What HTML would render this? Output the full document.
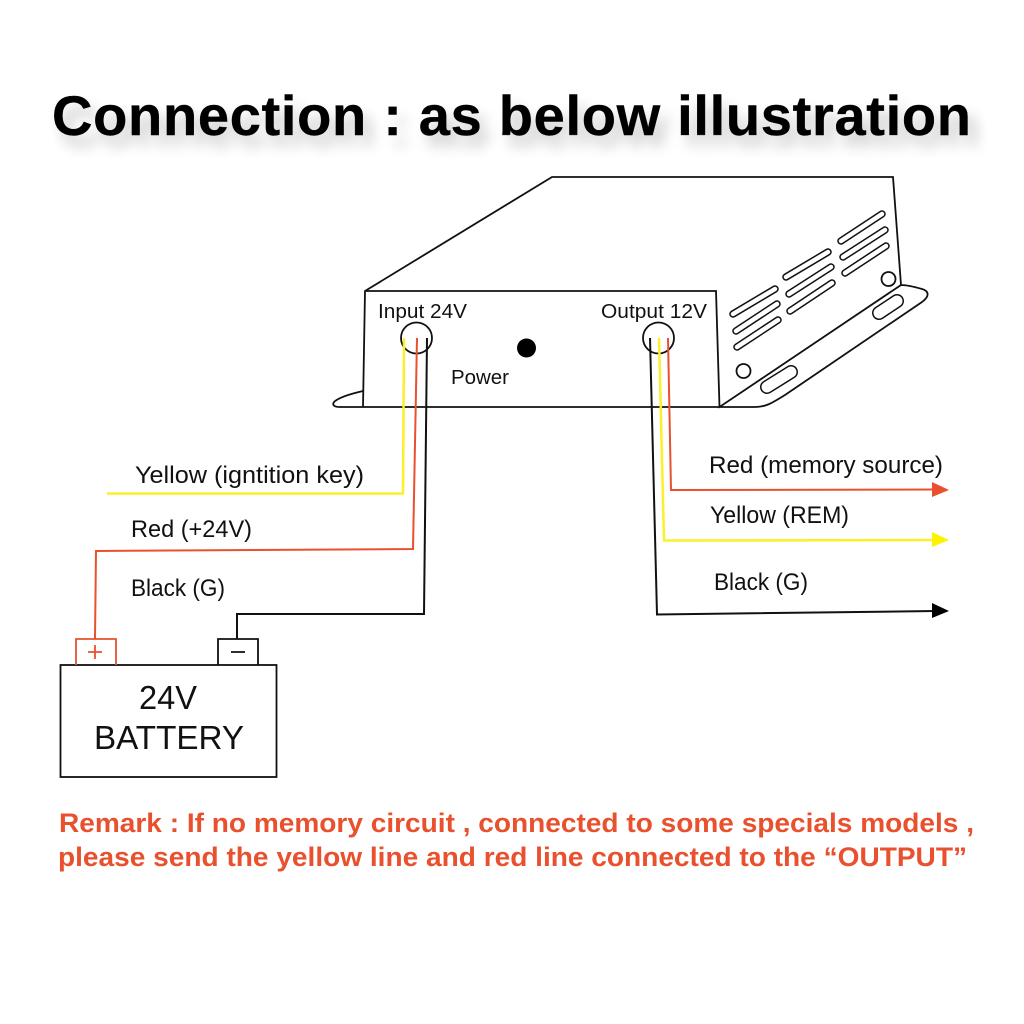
<!DOCTYPE html>
<html><head><meta charset="utf-8"><style>
html,body{margin:0;padding:0;background:#fff;width:1024px;height:1024px;overflow:hidden}
svg{display:block}
text{font-family:"Liberation Sans",sans-serif;fill:#111}
.l{font-size:24px}
.t{font-size:56px;font-weight:bold;fill:#000}
.r{font-size:27px;font-weight:bold;fill:#E9502E}
.s{fill:none;stroke:#111;stroke-width:1.8;stroke-linejoin:miter}
</style></head><body>
<svg width="1024" height="1024" viewBox="0 0 1024 1024" xmlns="http://www.w3.org/2000/svg">
<defs><filter id="b" x="-5%" y="-80%" width="110%" height="280%"><feGaussianBlur stdDeviation="7"/></filter></defs>
<text x="60" y="146" class="t" textLength="919" lengthAdjust="spacing" style="fill:#000;opacity:.22" filter="url(#b)">Connection : as below illustration</text>
<text x="52" y="135" class="t" textLength="919" lengthAdjust="spacing" style="stroke:#000;stroke-width:.4">Connection : as below illustration</text>

<path class="s" d="M363 407L365 291L552 177H893L901 285L719.5 407L716 291H365M363 407H755C766 407 772 403 785 395L922 302C930 296 929 291 922 289C915 287 908 285 901 285M363 391C350 394 338 398 334 402C332 405 334 407 340 407H363"/>
<g stroke-linecap="round" fill="none">
<g stroke="#111" stroke-width="7.500">
<path d="M733 314L775 289M736 331L777 304M737 347L778 320M786 277L828 252M789 294L831 267M790 311L832 283M841 241L882 214M843 257L885 230M845 273L886 246"/>
</g>
<g stroke="#fff" stroke-width="4.500">
<path d="M733 314L775 289M736 331L777 304M737 347L778 320M786 277L828 252M789 294L831 267M790 311L832 283M841 241L882 214M843 257L885 230M845 273L886 246"/>
</g>
<path stroke="#111" stroke-width="14" d="M767 387L791 372M879 313L897 301"/>
<path stroke="#fff" stroke-width="11" d="M767 387L791 372M879 313L897 301"/>
</g>
<circle cx="743.500" cy="371" r="7" class="s"/>
<circle cx="888.500" cy="279" r="7" class="s"/>
<circle cx="416.500" cy="338" r="15.500" class="s"/>
<circle cx="658.500" cy="338" r="15.500" class="s"/>
<circle cx="526.500" cy="348" r="9.500" fill="#000"/>

<text x="378" y="318" class="l" style="font-size:20px" textLength="89" lengthAdjust="spacingAndGlyphs">Input 24V</text>
<text x="601" y="318" class="l" style="font-size:20px" textLength="106" lengthAdjust="spacingAndGlyphs">Output 12V</text>
<text x="451" y="384" class="l" style="font-size:20px" textLength="58" lengthAdjust="spacingAndGlyphs">Power</text>

<g fill="none" stroke-width="2" stroke-linejoin="miter">
<path stroke="#FBF02A" stroke-width="2.500" d="M404 338L403 493.500L107 493.500"/>
<path stroke="#E9502E" d="M417 338L413 549L96 551L95 639"/>
<path stroke="#111" d="M427 338L424 614H237V639"/>
<path stroke="#111" d="M650 338L657 614.500L935 611"/>
<path stroke="#FBF02A" stroke-width="2.500" d="M659 338L664 540.500L935 540"/>
<path stroke="#E9502E" d="M668 338L671 490L935 489.500"/>
</g>
<path d="M932 482L949 490L932 497Z" fill="#E9502E"/>
<path d="M932 532L949 540L932 547Z" fill="#FFF200"/>
<path d="M932 603L949 611L932 618Z" fill="#000"/>

<text x="135" y="483" class="l" textLength="229" lengthAdjust="spacingAndGlyphs">Yellow (igntition key)</text>
<text x="131" y="537" class="l" textLength="121" lengthAdjust="spacingAndGlyphs">Red (+24V)</text>
<text x="131" y="596" class="l" textLength="94" lengthAdjust="spacingAndGlyphs">Black (G)</text>
<text x="709" y="473" class="l" textLength="234" lengthAdjust="spacingAndGlyphs">Red (memory source)</text>
<text x="710" y="523" class="l" textLength="139" lengthAdjust="spacingAndGlyphs">Yellow (REM)</text>
<text x="714" y="590" class="l" textLength="94" lengthAdjust="spacingAndGlyphs">Black (G)</text>

<rect x="60.500" y="665" width="216" height="112" class="s"/>
<path fill="none" stroke="#E9502E" stroke-width="1.800" d="M76 665V639H116V665M88 652H102M95 645V659"/>
<path class="s" d="M218 665V639H258V665M231 652H245"/>
<text x="139" y="709" style="font-size:33px" textLength="58" lengthAdjust="spacingAndGlyphs">24V</text>
<text x="94" y="749" style="font-size:33px" textLength="150" lengthAdjust="spacingAndGlyphs">BATTERY</text>

<text x="59" y="832" class="r" textLength="915" lengthAdjust="spacingAndGlyphs">Remark : If no memory circuit , connected to some specials models ,</text>
<text x="58" y="866" class="r" textLength="909" lengthAdjust="spacingAndGlyphs">please send the yellow line and red line connected to the “OUTPUT”</text>
</svg>
</body></html>
